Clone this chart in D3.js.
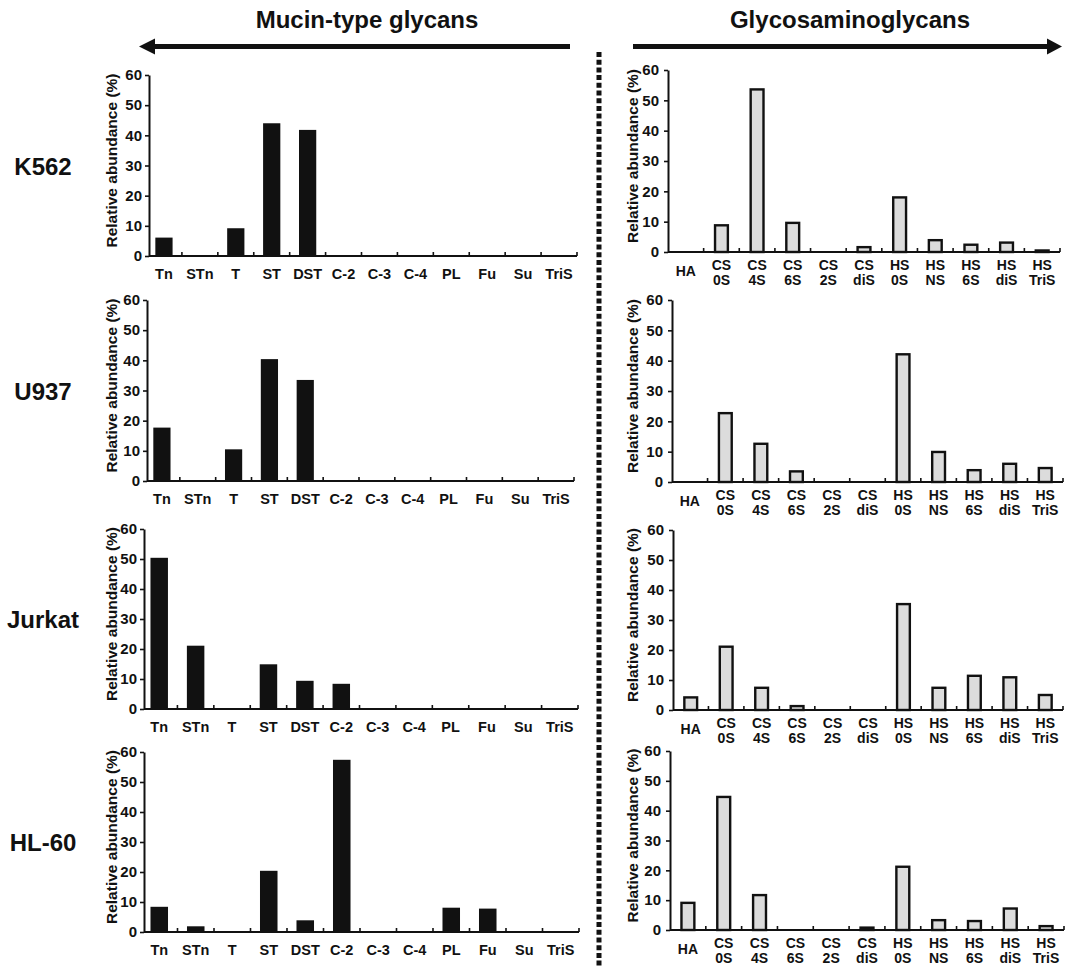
<!DOCTYPE html>
<html>
<head>
<meta charset="utf-8">
<script src="https://cdn.jsdelivr.net/npm/d3@7"></script>
<style>
  body { margin: 0; background: #fff; }
  svg text { font-family: "Liberation Sans", Arial, sans-serif; font-weight: bold; fill: #111; }
</style>
</head>
<body>
<svg id="chart" width="1066" height="967"></svg>
<script>
// data
const cellLines = ["K562", "U937", "Jurkat", "HL-60"];
const mucinTypes = ["Tn", "STn", "T", "ST", "DST", "C-2", "C-3", "C-4", "PL", "Fu", "Su", "TriS"];
const gagTop = ["HA", "CS", "CS", "CS", "CS", "CS", "HS", "HS", "HS", "HS", "HS"];
const gagBottom = ["", "0S", "4S", "6S", "2S", "diS", "0S", "NS", "6S", "diS", "TriS"];
const gagTypes = gagTop.map((t, i) => gagBottom[i] ? t + " " + gagBottom[i] : t);
const yTicks = [0, 10, 20, 30, 40, 50, 60];

const mucinK562   = [6.1, 0, 9.2, 44.0, 41.8, 0, 0, 0, 0, 0, 0, 0];
const mucinU937   = [17.7, 0, 10.5, 40.4, 33.5, 0, 0, 0, 0, 0, 0, 0];
const mucinJurkat = [50.4, 21.1, 0, 14.9, 9.4, 8.4, 0, 0, 0, 0, 0, 0];
const mucinHL60   = [8.4, 1.9, 0, 20.4, 3.9, 57.4, 0, 0, 8.1, 7.8, 0, 0];

const gagK562   = [0, 8.8, 53.6, 9.6, 0, 1.6, 18.0, 3.9, 2.4, 3.1, 0.5];
const gagU937   = [0, 22.7, 12.6, 3.5, 0, 0, 42.1, 9.9, 3.9, 6.0, 4.6];
const gagJurkat = [4.2, 21.1, 7.4, 1.3, 0, 0, 35.3, 7.4, 11.4, 10.9, 5.0];
const gagHL60   = [9.1, 44.6, 11.7, 0, 0, 0.8, 21.2, 3.3, 3.0, 7.2, 1.3];

const mucinValues = [mucinK562, mucinU937, mucinJurkat, mucinHL60];
const gagValues = [gagK562, gagU937, gagJurkat, gagHL60];

// layout of the panels (pixel positions, one per row)
const leftAxisX = [149, 147, 144, 144];
const leftEnd = [577, 574, 578, 579];
const leftTop = [75, 300, 529, 752];
const leftBottom = [256, 481, 709, 932];
const rightAxisX = [668, 672, 673, 670];
const rightEnd = [1060, 1063, 1063, 1064];
const rightTop = [70, 300, 530, 751];
const rightBottom = [252, 482, 710, 930];

const svg = d3.select("#chart");

// headers with arrows
svg.append("text").attr("x", 367).attr("y", 28).attr("text-anchor", "middle")
  .style("font-size", "24px").text("Mucin-type glycans");
svg.append("text").attr("x", 850).attr("y", 28).attr("text-anchor", "middle")
  .style("font-size", "24px").text("Glycosaminoglycans");

svg.append("line").attr("x1", 150).attr("x2", 570).attr("y1", 46.5).attr("y2", 46.5)
  .attr("stroke", "#111").attr("stroke-width", 5);
svg.append("path").attr("d", "M139,46.5 L155,38.5 L155,54.5 Z").attr("fill", "#111");
svg.append("line").attr("x1", 633).attr("x2", 1050).attr("y1", 46.5).attr("y2", 46.5)
  .attr("stroke", "#111").attr("stroke-width", 5);
svg.append("path").attr("d", "M1062,46.5 L1047,38.5 L1047,54.5 Z").attr("fill", "#111");

// dashed divider
svg.append("line").attr("x1", 599).attr("x2", 599).attr("y1", 52).attr("y2", 967)
  .attr("stroke", "#111").attr("stroke-width", 5).attr("stroke-dasharray", "5,2.7");

function drawPanel(cats, values, axisX, bandStart, end, top, bottom, pad, isGag) {
  const g = svg.append("g");
  const x = d3.scaleBand().domain(cats).range([bandStart, end])
    .paddingInner(pad).paddingOuter(pad / 2);
  const y = d3.scaleLinear().domain([0, 60]).range([bottom, top]);

  // bars
  g.selectAll("rect.bar")
    .data(cats.map((c, i) => ({ c, v: values[i] })).filter(d => d.v > 0))
    .join("rect")
    .attr("class", "bar")
    .attr("x", d => x(d.c))
    .attr("width", x.bandwidth())
    .attr("y", d => y(d.v))
    .attr("height", d => y(0) - y(d.v))
    .attr("fill", isGag ? "#dcdcdc" : "#111")
    .attr("stroke", isGag ? "#111" : "none")
    .attr("stroke-width", isGag ? 2.4 : 0);

  // y axis
  const ya = g.append("g").attr("transform", `translate(${axisX},0)`)
    .call(d3.axisLeft(y).tickValues(yTicks).tickSize(4).tickSizeOuter(0).tickPadding(isGag ? 5 : 3));
  ya.select(".domain").attr("stroke", "#111").attr("stroke-width", 2);
  ya.selectAll(".tick line").attr("stroke", "#111").attr("stroke-width", 1.6);
  ya.selectAll(".tick text").style("font-size", "15px").attr("font-family", null);

  // x axis line with inward ticks at category boundaries
  g.append("line").attr("x1", axisX).attr("x2", end).attr("y1", y(0)).attr("y2", y(0))
    .attr("stroke", "#111").attr("stroke-width", 2);
  g.selectAll("line.xt").data(cats).join("line").attr("class", "xt")
    .attr("x1", c => x(c) + x.bandwidth() / 2 + x.step() / 2)
    .attr("x2", c => x(c) + x.bandwidth() / 2 + x.step() / 2)
    .attr("y1", y(0)).attr("y2", y(0) - 4)
    .attr("stroke", "#111").attr("stroke-width", 1.6);

  // category labels
  if (isGag) {
    cats.forEach((c, i) => {
      const cx = x(c) + x.bandwidth() / 2;
      if (gagBottom[i]) {
        const t = g.append("text").attr("text-anchor", "middle").style("font-size", "14px");
        t.append("tspan").attr("x", cx).attr("y", y(0) + 18).text(gagTop[i]);
        t.append("tspan").attr("x", cx).attr("y", y(0) + 33).text(gagBottom[i]);
      } else {
        g.append("text").attr("text-anchor", "middle").style("font-size", "14px")
          .attr("x", cx).attr("y", y(0) + 24).text(gagTop[i]);
      }
    });
  } else {
    g.selectAll("text.xl").data(cats).join("text").attr("class", "xl")
      .attr("text-anchor", "middle").style("font-size", "14.5px")
      .attr("x", c => x(c) + x.bandwidth() / 2)
      .attr("y", y(0) + 23)
      .text(c => c);
  }

  // y title
  const tx = isGag ? 633 : 111.5;
  g.append("text")
    .attr("transform", `translate(${tx + 5},${(top + bottom) / 2 - 5}) rotate(-90)`)
    .attr("text-anchor", "middle").style("font-size", "15.5px")
    .text("Relative abundance (%)");
}

cellLines.forEach((name, i) => {
  drawPanel(mucinTypes, mucinValues[i], leftAxisX[i], leftAxisX[i] - 3, leftEnd[i],
    leftTop[i], leftBottom[i], 0.52, false);
  drawPanel(gagTypes, gagValues[i], rightAxisX[i], rightAxisX[i], rightEnd[i],
    rightTop[i], rightBottom[i], 0.64, true);
  svg.append("text").attr("x", 43).attr("y", (leftTop[i] + leftBottom[i]) / 2 + 9)
    .attr("text-anchor", "middle").style("font-size", "24px").text(name);
});
</script>
</body>
</html>
